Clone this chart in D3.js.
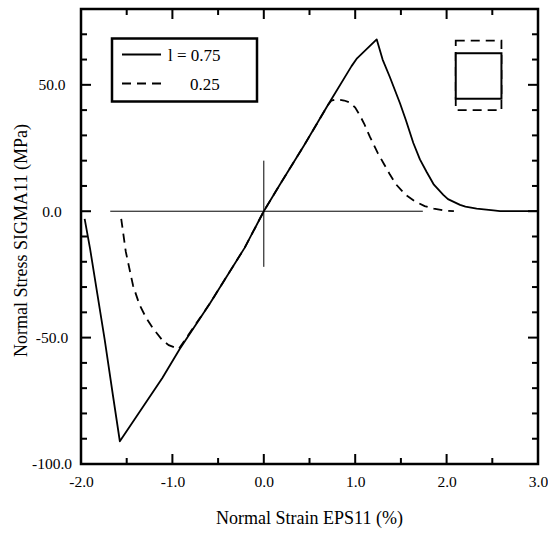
<!DOCTYPE html>
<html>
<head>
<meta charset="utf-8">
<script src="https://cdn.jsdelivr.net/npm/d3@7"></script>
<style>
  body { margin: 0; background: #fff; }
  text { font-family: "Liberation Serif", "Times New Roman", serif; fill: #000; }
</style>
</head>
<body>
<svg id="chart" width="548" height="540"></svg>
<script>
// Stress-strain curves
const strainL075 = [-1.96, -1.90, -1.82, -1.74, -1.65, -1.575, -1.11, -0.92, -0.59, -0.21, 0, 0.17, 0.44, 0.70, 0.96, 1.02, 1.235,
    1.30, 1.38, 1.49, 1.555, 1.636, 1.708, 1.782, 1.861, 1.964, 2.015, 2.147, 2.206, 2.329, 2.513, 2.584, 3.0];
const stressL075 = [-3, -15, -33, -51, -73, -91, -66, -54.5, -36.5, -14.5, 0, 10.2, 26, 41.9, 57.4, 60.5, 68,
    60, 53, 42.7, 36, 27, 20.5, 15.5, 10.5, 6.5, 4.8, 2.5, 1.8, 1.0, 0.3, 0, 0];

const strainL025 = [-1.56, -1.51, -1.43, -1.36, -1.29, -1.21, -1.11, -1.04, -0.93, -0.59, -0.21, 0, 0.17, 0.44, 0.70, 0.74, 0.80,
    0.88, 0.94, 1.0, 1.05, 1.10, 1.16, 1.25, 1.31, 1.38, 1.45, 1.55, 1.65, 1.76, 1.86, 1.97, 2.08];
const stressL025 = [-3, -16, -29.5, -37, -42, -46.5, -51, -53, -54.5, -36.5, -14.5, 0, 10.2, 26, 41.9, 43.8, 44.3,
    43.8, 43, 41, 38, 34.5, 29.5, 22.8, 19, 14.5, 10.5, 6.5, 4, 2, 1, 0.3, 0];

const legendLabels = ['l = 0.75', '0.25'];
const xMajorTicks = [-2, -1, 0, 1, 2, 3];
const xMinorTicks = [-1.5, -0.5, 0.5, 1.5, 2.5];
const yMajorTicks = [-100, -50, 0, 50];
const yMinorTicks = [-90, -80, -70, -60, -40, -30, -20, -10, 10, 20, 30, 40, 60, 70];

// thin cross through the origin: [x1, y1, x2, y2]
const refLines = [[-1.68, 0, 1.74, 0], [0, -22, 0, 20]];

const svg = d3.select('#chart');
const margin = { top: 9, right: 10, bottom: 76, left: 81 };
const width = 548, height = 540;

const x = d3.scaleLinear().domain([-2, 3]).range([margin.left, width - margin.right]);
const y = d3.scaleLinear().domain([-100, 80]).range([height - margin.bottom, margin.top]);
const bottomY = y(-100), topY = y(80), leftX = x(-2), rightX = x(3);

// reference cross
svg.append('g').selectAll('line')
    .data(refLines)
    .enter().append('line')
    .attr('x1', d => x(d[0])).attr('y1', d => y(d[1]))
    .attr('x2', d => x(d[2])).attr('y2', d => y(d[3]))
    .attr('stroke', '#000')
    .attr('stroke-width', 1);

// curves
const curve = d3.line()
    .x(d => x(d[0]))
    .y(d => y(d[1]));

svg.append('path')
    .datum(d3.zip(strainL025, stressL025))
    .attr('d', curve)
    .attr('fill', 'none')
    .attr('stroke', '#000')
    .attr('stroke-width', 1.8)
    .attr('stroke-dasharray', '9,6');

svg.append('path')
    .datum(d3.zip(strainL075, stressL075))
    .attr('d', curve)
    .attr('fill', 'none')
    .attr('stroke', '#000')
    .attr('stroke-width', 1.8)
    .attr('stroke-linejoin', 'round');

// frame
svg.append('rect')
    .attr('x', leftX).attr('y', topY)
    .attr('width', rightX - leftX)
    .attr('height', bottomY - topY)
    .attr('fill', 'none')
    .attr('stroke', '#000')
    .attr('stroke-width', 2.5);

// tick labels through d3 axes
const fmt = d => d.toFixed(1);
const xAxisG = svg.append('g')
    .attr('transform', `translate(0,${bottomY})`)
    .call(d3.axisBottom(x).tickValues(xMajorTicks).tickFormat(fmt).tickSize(0).tickPadding(12));
const yAxisG = svg.append('g')
    .attr('transform', `translate(${leftX},0)`)
    .call(d3.axisLeft(y).tickValues(yMajorTicks).tickFormat(fmt).tickSize(0).tickPadding(0));
[xAxisG, yAxisG].forEach(g => {
    g.select('.domain').remove();
    g.selectAll('.tick line').remove();
    g.selectAll('.tick text')
        .style('font-family', '"Liberation Serif", "Times New Roman", serif')
        .style('font-size', '15.5px')
        .attr('fill', '#000');
});
yAxisG.selectAll('.tick text')
    .attr('text-anchor', 'middle')
    .attr('x', -29);

// inward tick marks on all four sides, as small filled bars
const xTicks = xMajorTicks.map(v => ({ v: v, len: 10 })).concat(xMinorTicks.map(v => ({ v: v, len: 6 })));
const yTicks = yMajorTicks.map(v => ({ v: v, len: 10 })).concat(yMinorTicks.map(v => ({ v: v, len: 6 })));
const tickG = svg.append('g').attr('class', 'ticks');
const tw = 2;

tickG.selectAll('rect.xb').data(xTicks).enter().append('rect')
    .attr('class', 'xb')
    .attr('x', d => x(d.v) - tw / 2).attr('y', d => bottomY - d.len)
    .attr('width', tw).attr('height', d => d.len)
    .attr('fill', '#000');
tickG.selectAll('rect.xt').data(xTicks).enter().append('rect')
    .attr('class', 'xt')
    .attr('x', d => x(d.v) - tw / 2).attr('y', topY)
    .attr('width', tw).attr('height', d => d.len)
    .attr('fill', '#000');
tickG.selectAll('rect.yl').data(yTicks).enter().append('rect')
    .attr('class', 'yl')
    .attr('x', leftX).attr('y', d => y(d.v) - tw / 2)
    .attr('width', d => d.len).attr('height', tw)
    .attr('fill', '#000');
tickG.selectAll('rect.yr').data(yTicks).enter().append('rect')
    .attr('class', 'yr')
    .attr('x', d => rightX - d.len).attr('y', d => y(d.v) - tw / 2)
    .attr('width', d => d.len).attr('height', tw)
    .attr('fill', '#000');

// axis titles
svg.append('text')
    .attr('x', (leftX + rightX) / 2)
    .attr('y', 524)
    .attr('text-anchor', 'middle')
    .style('font-size', '18px')
    .text('Normal Strain EPS11 (%)');

svg.append('text')
    .attr('transform', `translate(27,${(bottomY + topY) / 2 + 4}) rotate(-90)`)
    .attr('text-anchor', 'middle')
    .style('font-size', '18px')
    .text('Normal Stress SIGMA11 (MPa)');

// legend
const legend = svg.append('g');
legend.append('rect')
    .attr('x', 112).attr('y', 38.5)
    .attr('width', 145).attr('height', 63)
    .attr('fill', '#fff')
    .attr('stroke', '#000')
    .attr('stroke-width', 2.5);

const legendRows = legend.selectAll('.row')
    .data(legendLabels)
    .enter().append('g')
    .attr('class', 'row')
    .attr('transform', (d, i) => `translate(0,${54.5 + i * 29})`);

legendRows.append('line')
    .attr('x1', 122).attr('x2', 161)
    .attr('stroke', '#000')
    .attr('stroke-width', 1.8)
    .attr('stroke-dasharray', (d, i) => i === 0 ? null : '9,6');

legendRows.append('text')
    .attr('x', (d, i) => i === 0 ? 168 : 190)
    .attr('y', 6)
    .style('font-size', '17px')
    .text(d => d);

// specimen sketch in the upper right corner (dashed = deformed outline)
const sketch = svg.append('g');
sketch.append('rect')
    .attr('x', x(2.1)).attr('y', y(67.5))
    .attr('width', x(2.6) - x(2.1))
    .attr('height', y(40) - y(67.5))
    .attr('fill', 'none')
    .attr('stroke', '#000')
    .attr('stroke-width', 1.8)
    .attr('stroke-dasharray', '9,6');
sketch.append('rect')
    .attr('x', x(2.1)).attr('y', y(62.5))
    .attr('width', x(2.6) - x(2.1))
    .attr('height', y(44.5) - y(62.5))
    .attr('fill', '#fff')
    .attr('stroke', '#000')
    .attr('stroke-width', 2);
</script>
</body>
</html>
